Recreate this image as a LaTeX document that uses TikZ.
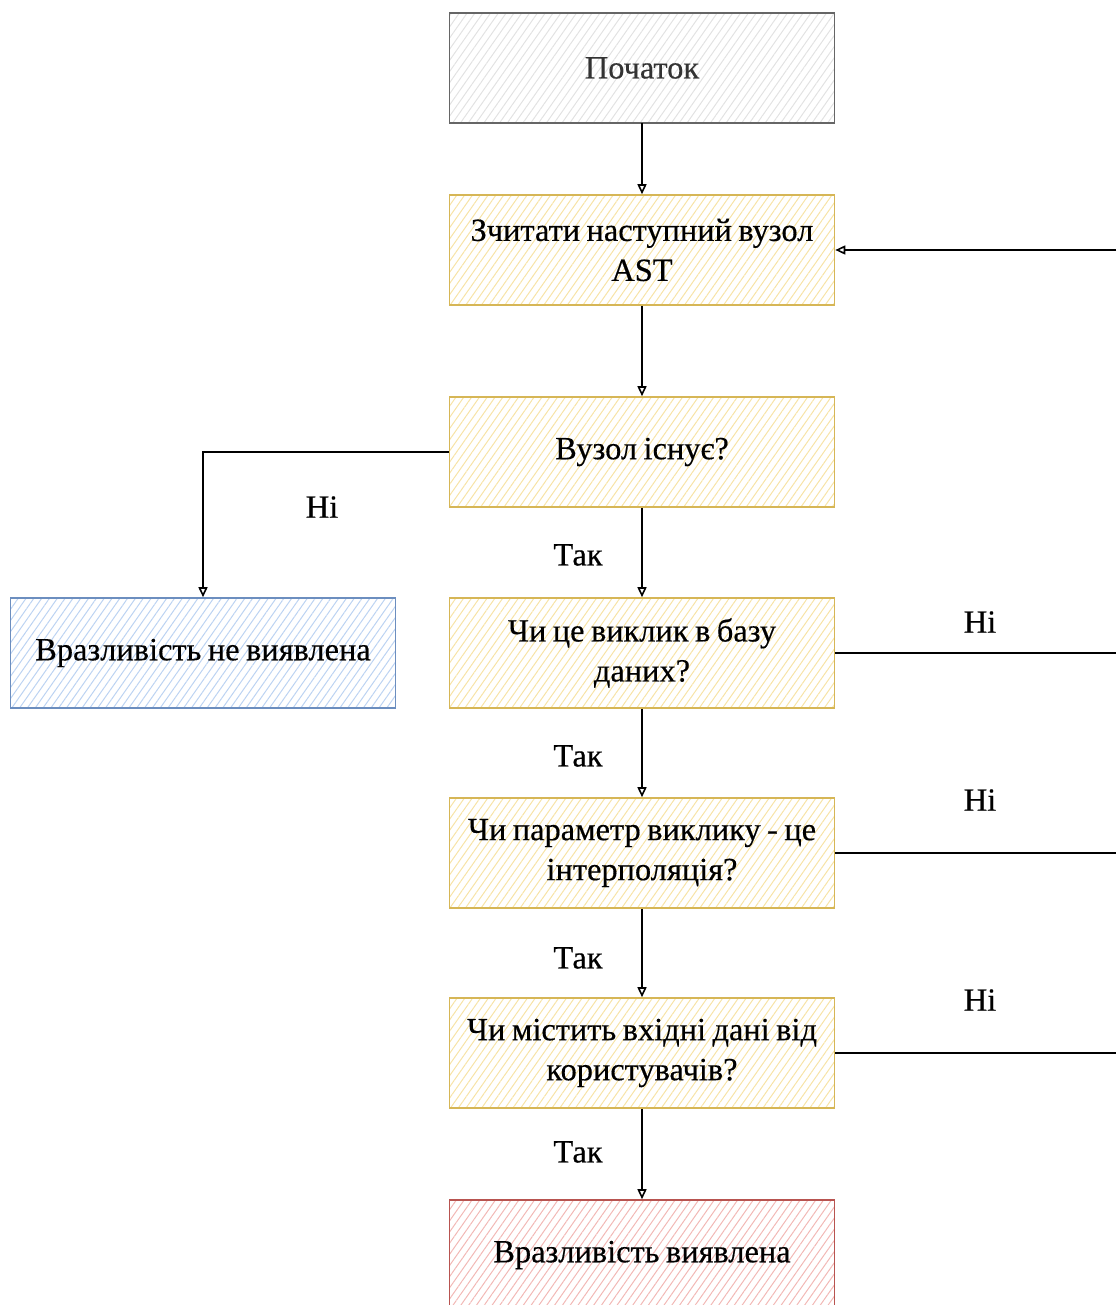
\documentclass[tikz,border=0pt]{standalone}
\usepackage{fontspec}
\setmainfont{Liberation Serif}[WordSpace=0.8,FakeBold=0.4]
\usetikzlibrary{arrows.meta,patterns.meta,positioning}
\definecolor{ystroke}{HTML}{D6B656}
\definecolor{yfill}{HTML}{F7E3A6}
\definecolor{bstroke}{HTML}{6C8EBF}
\definecolor{bfill}{HTML}{BCD3F2}
\definecolor{rstroke}{HTML}{B85450}
\definecolor{rfill}{HTML}{F2B8B5}
\definecolor{gstroke}{HTML}{666666}
\definecolor{gfill}{HTML}{E2E2E2}
\definecolor{gtext}{HTML}{333333}
\tikzset{
  box/.style={rectangle, minimum width=192.5pt, minimum height=55pt, line width=0.8pt,
    font=\fontsize{16.2}{20}\selectfont, align=center, inner sep=0pt},
  yellowbox/.style={box, draw=ystroke, pattern={Lines[angle=55,distance=3.2pt,line width=0.5pt]}, pattern color=yfill},
  bluebox/.style={box, draw=bstroke, pattern={Lines[angle=55,distance=3.2pt,line width=0.5pt]}, pattern color=bfill},
  redbox/.style={box, draw=rstroke, pattern={Lines[angle=55,distance=3.2pt,line width=0.5pt]}, pattern color=rfill},
  graybox/.style={box, draw=gstroke, text=gtext, pattern={Lines[angle=55,distance=3.2pt,line width=0.5pt]}, pattern color=gfill},
  conn/.style={line width=0.8pt, draw=black},
  arr/.style={conn, -{Triangle[open,length=5pt,width=4.5pt]}},
  lbl/.style={font=\fontsize{16.2}{18}\selectfont, inner sep=0pt},
}
\begin{document}
\begin{tikzpicture}[x=0.5pt,y=-0.5pt]
\useasboundingbox (0,0) rectangle (1116,1305);
\node[graybox] (start) at (642,68) {Початок};
\node[yellowbox] (read) at (642,250) {Зчитати наступний вузол\\AST};
\node[yellowbox] (exists) at (642,452) {Вузол існує?};
\node[yellowbox] (db) at (642,653) {Чи це виклик в базу\\даних?};
\node[yellowbox] (interp) at (642,853) {Чи параметр виклику - це\\інтерполяція?};
\node[yellowbox] (user) at (642,1053) {Чи містить вхідні дані від\\користувачів?};
\node[redbox] (found) at (642,1255) {Вразливість виявлена};
\node[bluebox] (notfound) at (203,653) {Вразливість не виявлена};

\coordinate (loopin) at (1116,250);
\coordinate (r1) at (1116,653);
\coordinate (r2) at (1116,853);
\coordinate (r3) at (1116,1053);

\draw[arr] (start) -- (read);
\draw[arr] (read) -- (exists);
\draw[arr] (exists) -- (db);
\draw[arr] (db) -- (interp);
\draw[arr] (interp) -- (user);
\draw[arr] (user) -- (found);
\draw[arr] (exists.west) -| (notfound.north);
\draw[arr] (loopin) -- (read.east);
\draw[conn] (db.east) -- (r1);
\draw[conn] (interp.east) -- (r2);
\draw[conn] (user.east) -- (r3);

\node[lbl] (l1) at (322,507) {Ні};
\node[lbl] (l2) at (578,555) {Так};
\node[lbl] (l3) at (578,756) {Так};
\node[lbl] (l4) at (578,958) {Так};
\node[lbl] (l5) at (578,1152) {Так};
\node[lbl] (l6) at (980,622) {Ні};
\node[lbl] (l7) at (980,800) {Ні};
\node[lbl] (l8) at (980,1000) {Ні};
\end{tikzpicture}
\end{document}
